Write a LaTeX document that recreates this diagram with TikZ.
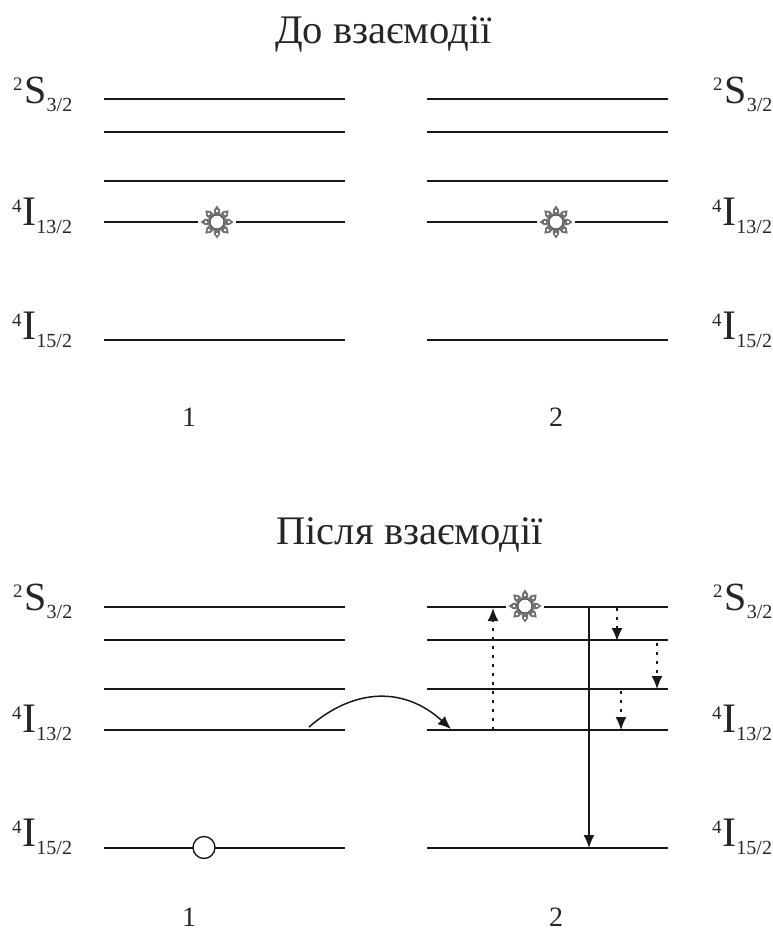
\documentclass[tikz,border=0pt]{standalone}
\usepackage{fontspec}
\setmainfont{Liberation Serif}
\usetikzlibrary{arrows.meta}
\newcommand{\fsz}[1]{\fontsize{#1bp}{#1bp}\selectfont}
\newcommand{\termS}[3]{{\fsz{19}\raisebox{13bp}{#1}}\kern2bp{\fsz{40}#2}{\fsz{20}\raisebox{-8bp}{#3}}}
\newcommand{\termI}[3]{{\fsz{19}\raisebox{13bp}{#1}}\kern1bp{\fsz{42}#2}{\fsz{20}\raisebox{-8bp}{#3}}}
\tikzset{
  x=1bp,y=-1bp,
  level/.style={line width=2bp,black!90},
  termlabel/.style={anchor=base west,inner sep=0pt,outer sep=0pt,text=black!85},
  numlabel/.style={anchor=base,inner sep=0pt,font=\fsz{28},text=black!85},
  titlelabel/.style={anchor=base,inner sep=0pt,font=\fsz{40.6},text=black!85},
  solidarrow/.style={line width=1.5bp,black!90,-{Latex[length=13bp,width=11bp]}},
  dotarrow/.style={line width=1.5bp,black!90,dash pattern=on 3bp off 6bp,-{Latex[length=13bp,width=11bp]}},
  holemark/.style={circle,draw=black!90,fill=white,line width=1.4bp,minimum size=22bp,inner sep=0pt},
  sunmark/.pic={
    \fill[white] (-19,-3) rectangle (19,3);
    \foreach \a in {0,45,...,315}{
      \begin{scope}[rotate=\a]
        \fill[black!55] (5,-3.2) -- (12,-3.2) -- (16.5,0) -- (12,3.2) -- (5,3.2) -- cycle;
        \fill[white] (10.5,-1) rectangle (12.5,1);
      \end{scope}
    }
    \fill[white] (0,0) circle (6.5);
    \draw[black!65,line width=.9bp] (0,0) circle (7);
  }
}
\begin{document}
\begin{tikzpicture}
\useasboundingbox (0,0) rectangle (773,933);
\node[titlelabel] (title1) at (383.5,43) {До взаємодії};
\node[titlelabel] (title2) at (409.5,544) {Після взаємодії};
% level end points
\foreach \n/\y in {a/99,b/132,c/181,d/222,e/340,f/607,g/640,h/689,i/730,j/848}{
  \coordinate (L\n1) at (104,\y); \coordinate (R\n1) at (345,\y);
  \coordinate (L\n2) at (427,\y); \coordinate (R\n2) at (668,\y);
  \draw[level] (L\n1) -- (R\n1);
  \draw[level] (L\n2) -- (R\n2);
}
% term labels
\foreach \tag/\dx in {l/0,r/700}{
  \foreach \p/\dy in {u/0,d/507}{
    \node[termlabel] (S\tag\p) at (13+\dx,103+\dy) {\termS{2}{S}{3/2}};
    \node[termlabel] (A\tag\p) at (12+\dx,225+\dy) {\termI{4}{I}{13/2}};
    \node[termlabel] (B\tag\p) at (12+\dx,339+\dy) {\termI{4}{I}{15/2}};
  }
}
% panel numbers
\node[numlabel] (n1) at (189,426) {1};
\node[numlabel] (n2) at (556,426) {2};
\node[numlabel] (n3) at (189,926.5) {1};
\node[numlabel] (n4) at (556,926.5) {2};
% excitations
\pic at (217,222) {sunmark};
\pic at (556,222) {sunmark};
\pic at (525,606) {sunmark};
\node[holemark] (hole) at (204,847.5) {};
% transitions
\coordinate (tfrom) at (309,727);
\coordinate (tto) at (451,729);
\draw[solidarrow] (tfrom) .. controls (355,687) and (405,687) .. (tto);
\coordinate (ua) at (493,730); \coordinate (ub) at (493,608);
\draw[dotarrow] (ua) -- (ub);
\coordinate (sa) at (589,607); \coordinate (sb) at (589,848);
\draw[solidarrow] (sa) -- (sb);
\coordinate (da) at (617,608); \coordinate (db) at (617,641);
\draw[dotarrow] (da) -- (db);
\coordinate (ea) at (657,643); \coordinate (eb) at (657,689);
\draw[dotarrow] (ea) -- (eb);
\coordinate (fa) at (621,691); \coordinate (fb) at (621,730);
\draw[dotarrow] (fa) -- (fb);
\end{tikzpicture}
\end{document}
